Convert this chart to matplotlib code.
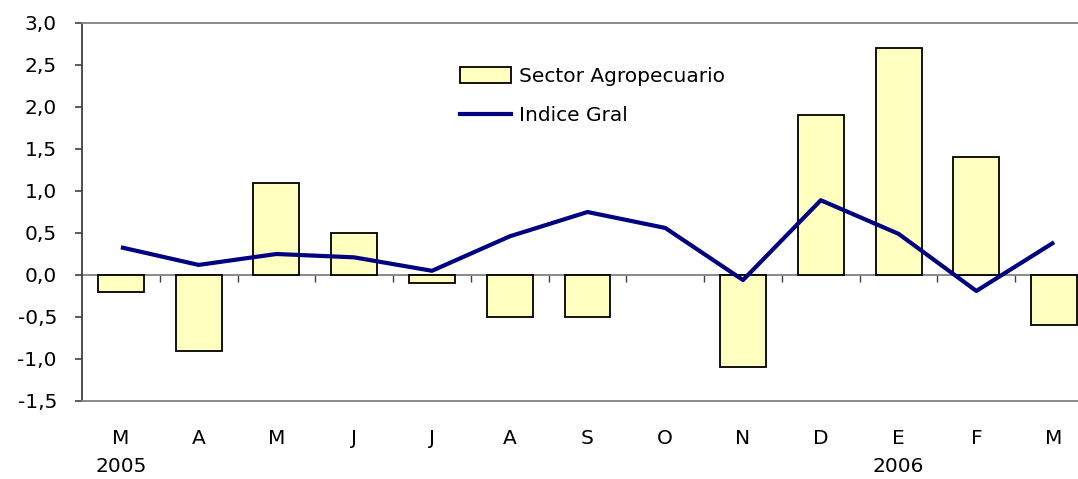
import matplotlib
matplotlib.use("Agg")
import matplotlib.pyplot as plt
from matplotlib.patches import Patch
from matplotlib.lines import Line2D

nan = float("nan")
months = ["M", "A", "M", "J", "J", "A", "S", "O", "N", "D", "E", "F", "M"]
years = {0: "2005", 10: "2006"}
sector_agro = [-0.2, -0.9, 1.1, 0.5, -0.1, -0.5, -0.5, nan, -1.1, 1.9, 2.7, 1.4, -0.6]
indice_gral = [0.33, 0.12, 0.25, 0.21, 0.05, 0.46, 0.75, 0.56, -0.06, 0.89, 0.49, -0.19, 0.39]
yticks = [-1.5, -1.0, -0.5, 0.0, 0.5, 1.0, 1.5, 2.0, 2.5, 3.0]

FS = 14.5
plt.rcParams['font.family'] = ['DejaVu Sans']
fig = plt.figure(figsize=(10.78, 4.79), dpi=100)
ax = fig.add_axes([82/1078, 1-401/479, (1093-82)/1078, (401-23)/479])

x = list(range(len(months)))
ax.bar(x, sector_agro, width=0.59, color="#FFFFC0", edgecolor="black", linewidth=1.3, zorder=2)
ax.plot(x, indice_gral, color="#000080", linewidth=3.0, zorder=3, solid_capstyle="butt")

ax.set_xlim(-0.5, len(months) - 0.5)
ax.set_ylim(-1.5, 3.0)
ax.set_yticks(yticks)
ax.set_yticklabels([f"{v:.1f}".replace(".", ",") for v in yticks], fontsize=FS)
ax.tick_params(axis="y", direction="out", length=5, width=1.2, color="#404040", pad=13)

ax.set_xticks(x)
ax.set_xticklabels(months, fontsize=FS)
ax.tick_params(axis="x", length=0, pad=20)
for i, yr in years.items():
    ax.text(i, -(466 - 401) / 378, yr, transform=ax.get_xaxis_transform(),
            ha="center", va="center", fontsize=FS)

for s in ["top", "bottom", "right"]:
    ax.spines[s].set_color("#808080")
    ax.spines[s].set_linewidth(1.3)
ax.spines["left"].set_color("#404040")
ax.spines["left"].set_linewidth(1.3)

ax.axhline(0, color="#808080", linewidth=1.3, zorder=1)
sec = ax.secondary_xaxis(1.5 / 4.5)
sec.set_xticks([i + 0.5 for i in x[:-1]])
sec.set_xticklabels([])
sec.tick_params(direction="out", length=5, width=1, color="#404040")
sec.spines["bottom"].set_visible(False)

handles = [Patch(facecolor="#FFFFC0", edgecolor="black", linewidth=1.3),
           Line2D([0], [0], color="#000080", linewidth=3.0)]
ax.legend(handles, ["Sector Agropecuario", "Indice Gral"], loc="upper left",
          bbox_to_anchor=((460 - 82) / 1011, 1 - (67 - 23) / 378), frameon=False, fontsize=FS,
          handlelength=2.55, handleheight=0.85, handletextpad=0.4, labelspacing=1.0,
          borderaxespad=0, borderpad=0)

fig.savefig("out.png", dpi=100)
